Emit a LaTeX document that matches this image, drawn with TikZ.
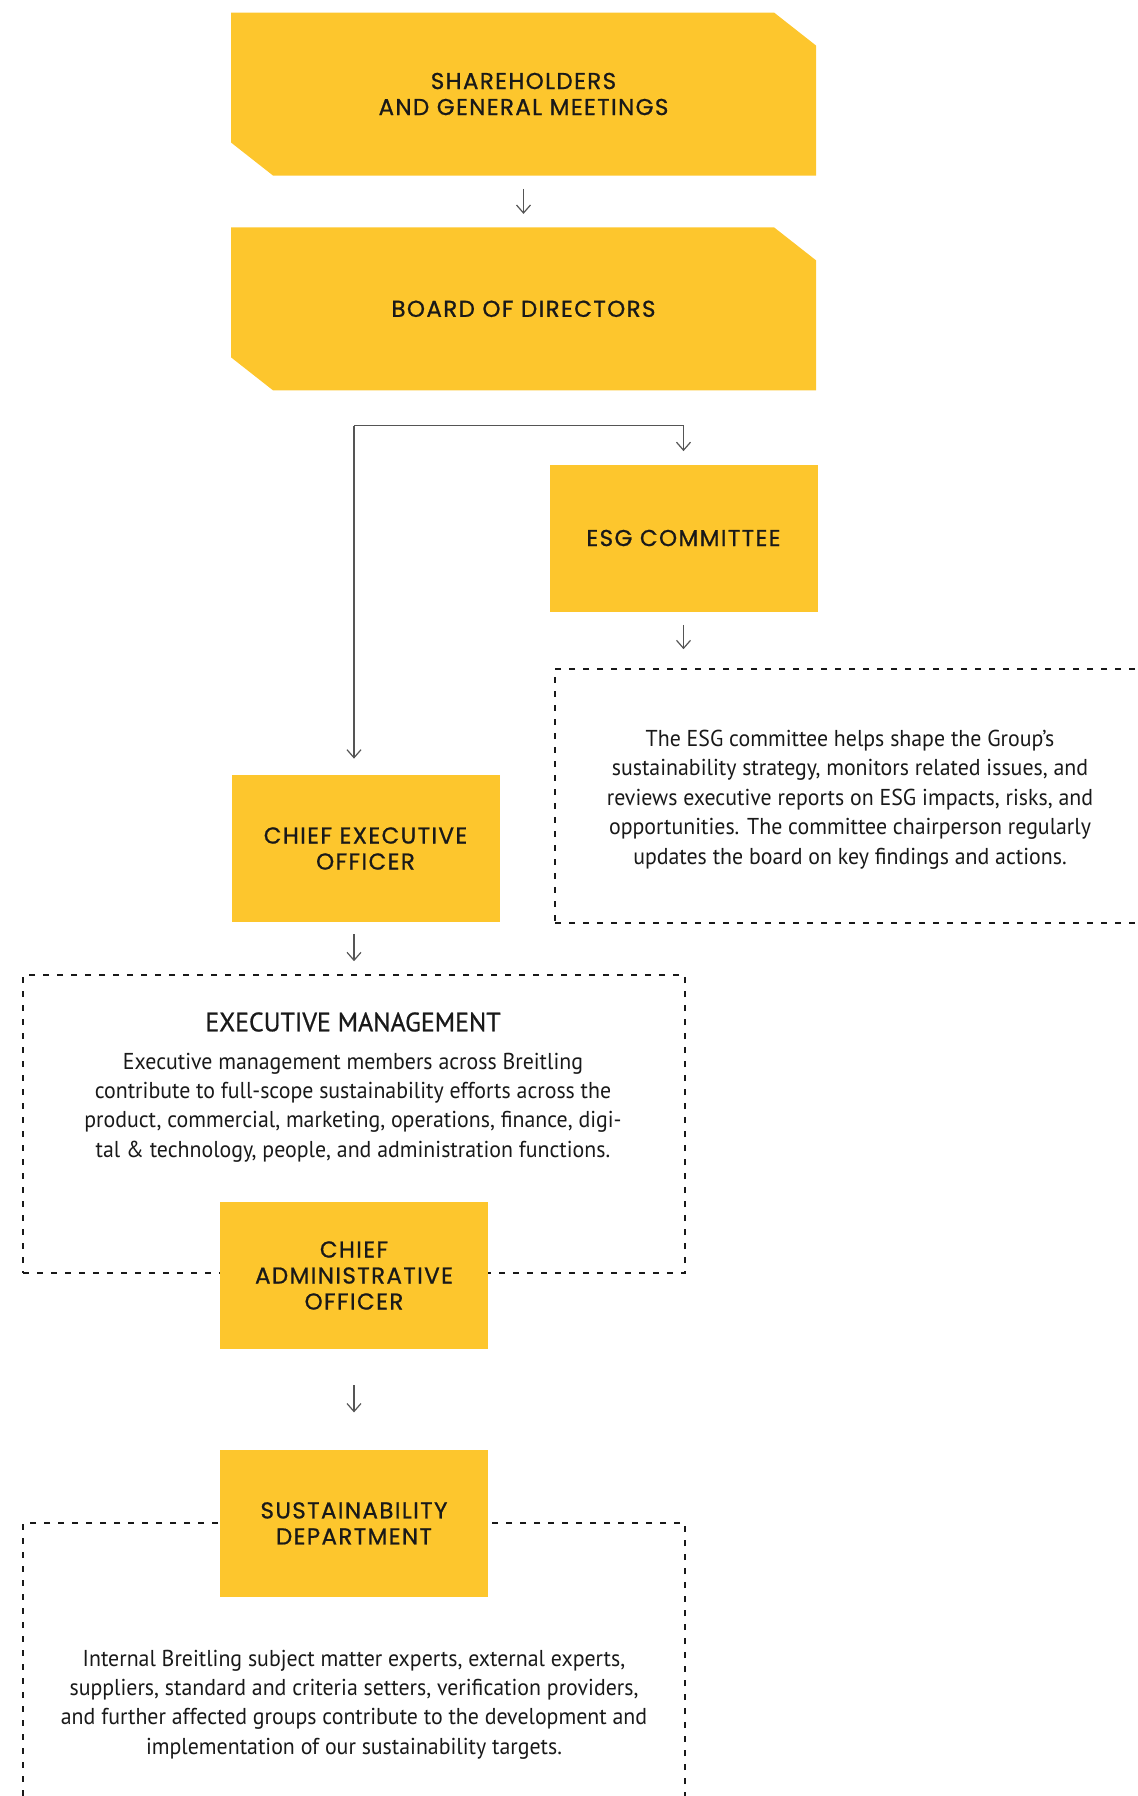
\documentclass[tikz,border=0pt]{standalone}
\usepackage{fontspec}
\setmainfont{PT Sans}
\newfontfamily\labelfont[LetterSpace=6,FakeBold=0.8]{Poppins}
\newfontfamily\bodyfont[FakeStretch=0.95]{PT Sans}
\newfontfamily\headfont[FakeStretch=0.97,FakeBold=0.8]{PT Sans}
\usepackage{tikz}
\usetikzlibrary{arrows.meta,positioning,calc}

\definecolor{boxyellow}{RGB}{253,198,45}
\definecolor{linegray}{RGB}{85,85,85}
\definecolor{inkblack}{RGB}{25,25,25}

\begin{document}
\begin{tikzpicture}[
    x=0.5pt, y=-0.5pt,
    >={Straight Barb[length=4pt,width=7pt]},
    block/.style={
        rectangle, fill=boxyellow, draw=none, inner sep=0pt,
        align=center, text=inkblack,
        font=\labelfont\fontsize{11.5}{13}\selectfont,
        minimum width=134pt, minimum height=73.5pt
    },
    bigblock/.style={
        block, fill=none,
        minimum width=292.5pt, minimum height=81.5pt,
        path picture={
            \fill[boxyellow] (path picture bounding box.north west)
              -- ([xshift=-21pt]path picture bounding box.north east)
              -- ([yshift=-16.5pt]path picture bounding box.north east)
              -- (path picture bounding box.south east)
              -- ([xshift=21pt]path picture bounding box.south west)
              -- ([yshift=16.5pt]path picture bounding box.south west)
              -- cycle;
        }
    },
    dashframe/.style={
        rectangle, draw=inkblack, line width=0.8pt,
        dash pattern=on 3pt off 4pt, inner sep=0pt
    },
    note/.style={
        align=center, text=inkblack, inner sep=0pt,
        font=\bodyfont\fontsize{11.5}{14.7}\selectfont
    },
    arrow/.style={->, draw=linegray, line width=0.6pt},
]
  \useasboundingbox (0,0) rectangle (1138,1796);

  %––– Dashed frames (behind the boxes) –––––––––––––––––––––––
  \node (esgframe)  [dashframe, minimum width=295pt, minimum height=127pt]   at (850,796) {};
  \node (execframe) [dashframe, minimum width=331pt, minimum height=149pt]   at (354,1124) {};
  \node (sustframe) [dashframe, minimum width=331pt, minimum height=163.5pt] at (354,1686.5) {};

  %––– Governance boxes –––––––––––––––––––––––––––––––––––––––
  \node (share) [bigblock] at (523.5,94) {SHAREHOLDERS\\AND GENERAL MEETINGS};
  \node (brd)   [bigblock, below=25.5pt of share] {BOARD OF DIRECTORS};

  \node (esg)   [block] at (683.5,538) {ESG COMMITTEE};
  \node (ceo)   [block] at (365.5,848.5) {CHIEF EXECUTIVE\\OFFICER};
  \node (cao)   [block] at (354,1275.5) {CHIEF\\ADMINISTRATIVE\\OFFICER};
  \node (sust)  [block, below=50pt of cao] {SUSTAINABILITY\\DEPARTMENT};

  %––– Texts –––––––––––––––––––––––––––––––––––––––––––––––––
  \node (esgtext) [note] at (850,799.5) {
      The ESG committee helps shape the Group’s\\
      sustainability strategy, monitors related issues, and\\
      reviews executive reports on ESG impacts, risks, and\\
      opportunities. The committee chairperson regularly\\
      updates the board on key findings and actions.};

  \node (exectitle) [note, font=\headfont\fontsize{13.3}{15}\selectfont] at (353,1022) {EXECUTIVE MANAGEMENT};
  \node (exectext) [note] at (353,1107.5) {
      Executive management members across Breitling\\
      contribute to full-scope sustainability efforts across the\\
      product, commercial, marketing, operations, finance, digi-\\
      tal \& technology, people, and administration functions.};

  \node (susttext) [note] at (354,1704.5) {
      Internal Breitling subject matter experts, external experts,\\
      suppliers, standard and criteria setters, verification providers,\\
      and further affected groups contribute to the development and\\
      implementation of our sustainability targets.};

  %––– Arrows –––––––––––––––––––––––––––––––––––––––––––––––
  \coordinate (fork) at ([yshift=-17.5pt]brd.south -| execframe.north);

  \draw[arrow, shorten <=6.5pt, shorten >=6.5pt] (share) -- (brd);
  \draw[arrow, shorten >=6.5pt] (fork) -- (fork -| esg.north) -- (esg.north);
  \draw[arrow, shorten >=8pt] (fork) -- (fork |- ceo.north);
  \draw[arrow, shorten <=6.5pt, shorten >=9.5pt] (esg.south) -- (esg.south |- esgframe.north);
  \draw[arrow, shorten <=6pt, shorten >=6.5pt] (ceo.south -| execframe.north) -- (execframe.north);
  \draw[arrow, shorten <=18pt, shorten >=18.5pt] (cao) -- (sust);
\end{tikzpicture}
\end{document}
